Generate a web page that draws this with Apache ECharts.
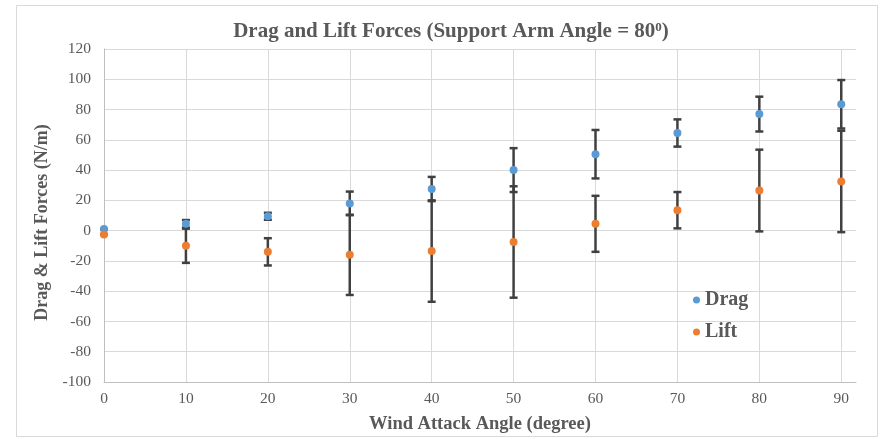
<!DOCTYPE html>
<html>
<head>
<meta charset="utf-8">
<script src="https://cdn.jsdelivr.net/npm/echarts@6/dist/echarts.min.js"></script>
<style>
    html, body { margin: 0; padding: 0; background: #fff; }
    #chart { width: 883px; height: 439px; }
</style>
</head>
<body>
<div id="chart"></div>
<script>
// wind attack angle (degree)
const angles = [0, 10, 20, 30, 40, 50, 60, 70, 80, 90];
// drag force and its error (N/m)
const dragValues = [1, 4.5, 9.5, 18, 27.5, 40, 50.5, 64.5, 77, 83.5];
const dragErrors = [0, 2.5, 2.3, 7.8, 8, 14.5, 16, 9, 11.5, 16];
// lift force and its error (N/m)
const liftValues = [-2.5, -10, -14, -16, -13.5, -7.5, 4.5, 13.5, 26.5, 32.5];
const liftErrors = [0, 11.3, 9, 26.5, 33.5, 36.8, 18.5, 12, 27, 33.5];

const textColor = '#595959';
const serif = '"Liberation Serif", "Times New Roman", serif';

function pairs(values) {
    return angles.map((a, i) => [a, values[i]]);
}
function errRows(values, errs) {
    return angles.map((a, i) => [a, values[i] - errs[i], values[i] + errs[i]]);
}

function renderErrorBar(params, api) {
    const lo = api.coord([api.value(0), api.value(1)]);
    const hi = api.coord([api.value(0), api.value(2)]);
    const cap = 4;
    const style = { stroke: '#404040', lineWidth: 2.5 };
    return {
        type: 'group',
        children: [
            { type: 'line', shape: { x1: lo[0], y1: lo[1], x2: hi[0], y2: hi[1] }, style: style },
            { type: 'line', shape: { x1: lo[0] - cap, y1: lo[1], x2: lo[0] + cap, y2: lo[1] }, style: style },
            { type: 'line', shape: { x1: hi[0] - cap, y1: hi[1], x2: hi[0] + cap, y2: hi[1] }, style: style },
        ],
    };
}

const chart = echarts.init(document.getElementById('chart'));
const option = {
    animation: false,
    backgroundColor: '#fff',
    graphic: [
        {
            type: 'rect',
            shape: { x: 16.5, y: 5.5, width: 861, height: 431 },
            style: { fill: 'none', stroke: '#D9D9D9', lineWidth: 1 },
            z: -1,
        },
    ],
    title: {
        text: '{a|Drag and Lift Forces (Support Arm Angle = 80}{s|0}{a|)}',
        left: 446,
        top: 16,
        textAlign: 'center',
        textStyle: {
            rich: {
                a: { fontFamily: serif, fontWeight: 'bold', fontSize: 21, color: textColor },
                s: { fontFamily: serif, fontWeight: 'bold', fontSize: 13, color: textColor, verticalAlign: 'top', padding: [0, 0, 9, 0] },
            },
        },
    },
    legend: {
        orient: 'vertical',
        left: 688,
        top: 285,
        itemWidth: 7,
        itemHeight: 7,
        itemGap: 12,
        icon: 'circle',
        data: ['Drag', 'Lift'],
        textStyle: { fontFamily: serif, fontWeight: 'bold', fontSize: 20, lineHeight: 20, color: textColor },
    },
    grid: { left: 104, right: 27, top: 49, bottom: 56 },
    xAxis: {
        type: 'value',
        min: 0,
        max: 91.8,
        interval: 10,
        name: 'Wind Attack Angle (degree)',
        nameLocation: 'middle',
        nameGap: 33,
        nameTextStyle: { fontFamily: serif, fontWeight: 'bold', fontSize: 18.5, color: textColor },
        axisLine: { onZero: false, lineStyle: { color: '#BFBFBF', width: 1 } },
        axisTick: { show: false },
        axisLabel: { fontFamily: serif, fontSize: 15.5, color: textColor, margin: 9, showMaxLabel: false },
        splitLine: { show: true, showMaxLine: false, lineStyle: { color: '#D9D9D9', width: 1 } },
    },
    yAxis: {
        type: 'value',
        min: -100,
        max: 120,
        interval: 20,
        name: 'Drag & Lift Forces (N/m)',
        nameLocation: 'middle',
        nameGap: 52,
        nameTextStyle: { fontFamily: serif, fontWeight: 'bold', fontSize: 18, color: textColor, padding: [0, 14, 0, 0] },
        axisLine: { show: true, onZero: false, lineStyle: { color: '#BFBFBF', width: 1 } },
        axisTick: { show: false },
        axisLabel: { fontFamily: serif, fontSize: 15.5, color: textColor, margin: 13 },
        splitLine: { show: true, lineStyle: { color: '#D9D9D9', width: 1 } },
    },
    series: [
        {
            name: 'DragErr',
            type: 'custom',
            renderItem: renderErrorBar,
            encode: { x: 0, y: [1, 2] },
            data: errRows(dragValues, dragErrors),
            z: 3,
        },
        {
            name: 'LiftErr',
            type: 'custom',
            renderItem: renderErrorBar,
            encode: { x: 0, y: [1, 2] },
            data: errRows(liftValues, liftErrors),
            z: 3,
        },
        {
            name: 'Drag',
            type: 'scatter',
            symbolSize: 8,
            itemStyle: { color: '#5B9BD5', opacity: 1 },
            data: pairs(dragValues),
            z: 4,
        },
        {
            name: 'Lift',
            type: 'scatter',
            symbolSize: 8,
            itemStyle: { color: '#ED7D31', opacity: 1 },
            data: pairs(liftValues),
            z: 4,
        },
    ],
};
chart.setOption(option);
window.addEventListener('resize', () => {
    chart.resize();
});
</script>
</body>
</html>
